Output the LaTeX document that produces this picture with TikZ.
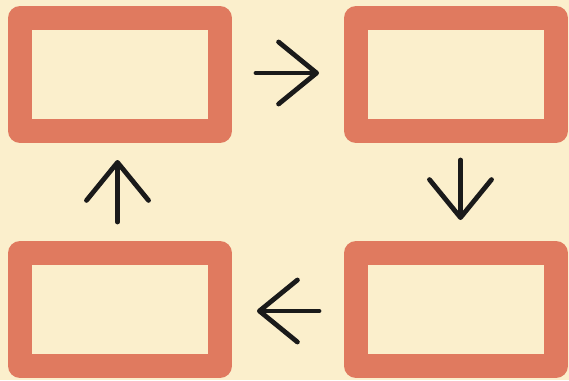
\documentclass[tikz,border=0pt]{standalone}
\usepackage{tikz}
\usetikzlibrary{arrows.meta,positioning,backgrounds}
\usepackage{xcolor}
\definecolor{cyclecream}{RGB}{251,239,204}
\definecolor{cycleorange}{RGB}{224,122,95}
\definecolor{cycleink}{RGB}{26,26,26}

\begin{document}
\begin{tikzpicture}[
    stagebox/.style={rectangle, draw=cycleorange, fill=cyclecream,
        line width=24pt, line join=round, inner sep=0pt,
        minimum width=200pt, minimum height=113pt},
    cyclearrow/.style={-{Straight Barb[length=38pt, width=62pt, round]},
        draw=cycleink, line width=4.8pt, line cap=round},
    >=Stealth
]
\node[stagebox] (first) {};
\node[stagebox, right=112pt of first] (second) {};
\node[stagebox, below=98pt of second] (third) {};
\node[stagebox, below=98pt of first] (fourth) {};

\draw[cyclearrow, shorten <=24pt, shorten >=25pt]
    ([yshift=1.5pt]first.east) -- ([yshift=1.5pt]second.west);
\draw[cyclearrow, shorten <=17pt, shorten >=21pt]
    ([xshift=4.5pt]second.south) -- ([xshift=4.5pt]third.north);
\draw[cyclearrow, shorten <=25pt, shorten >=25pt]
    ([yshift=-1.5pt]third.west) -- ([yshift=-1.5pt]fourth.east);
\draw[cyclearrow, shorten <=19pt, shorten >=17pt]
    ([xshift=-2.5pt]fourth.north) -- ([xshift=-2.5pt]first.south);

\begin{scope}[on background layer]
\fill[cyclecream] ([xshift=-8pt, yshift=6pt]first.north west)
    rectangle ([xshift=1pt, yshift=-2pt]third.south east);
\end{scope}
\end{tikzpicture}
\end{document}
